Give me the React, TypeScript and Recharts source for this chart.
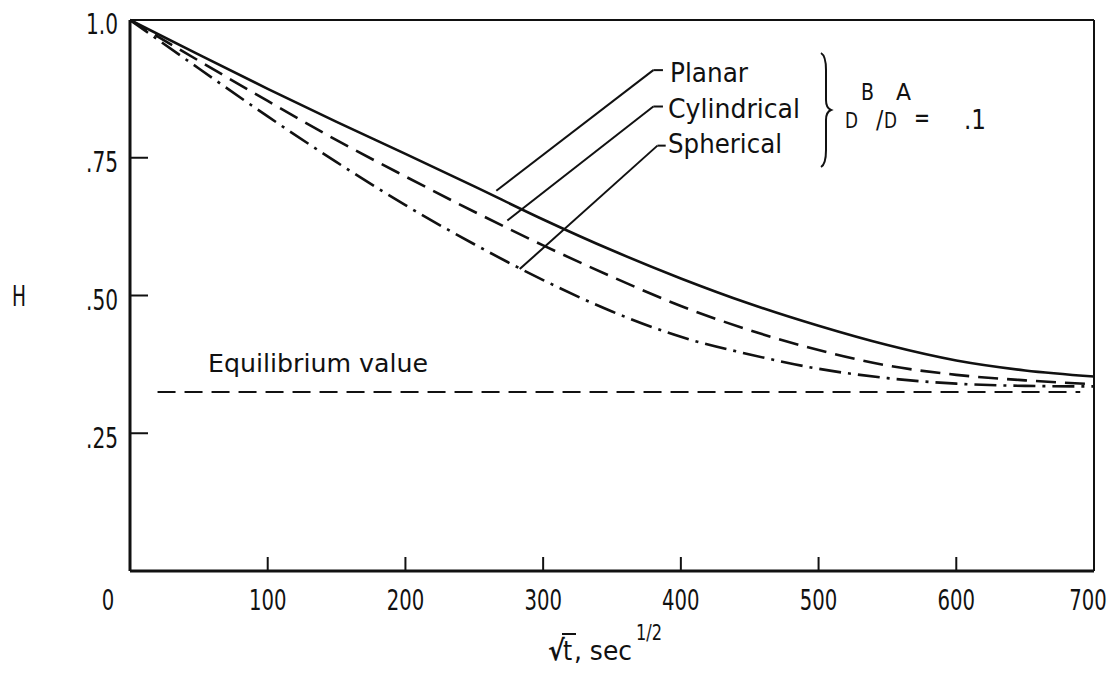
import React from "react";
import { LineChart, Line, XAxis, YAxis, ReferenceLine } from "recharts";

// sqrt(t) in sec^1/2
const X_VALUES = [0, 50, 100, 150, 200, 250, 300, 350, 400, 450, 500, 550, 600, 650, 700];
const PLANAR = [1.0, 0.937, 0.875, 0.815, 0.757, 0.698, 0.638, 0.582, 0.531, 0.485, 0.445, 0.41, 0.382, 0.364, 0.353];
const CYLINDRICAL = [1.0, 0.926, 0.853, 0.782, 0.716, 0.652, 0.591, 0.534, 0.481, 0.437, 0.401, 0.373, 0.356, 0.346, 0.339];
const SPHERICAL = [1.0, 0.912, 0.825, 0.742, 0.664, 0.593, 0.528, 0.471, 0.425, 0.393, 0.367, 0.35, 0.34, 0.336, 0.335];
const EQUILIBRIUM = 0.325;

const X_TICKS_BOTTOM = [0, 100, 200, 300, 400, 500, 600, 700];
const X_TICKS_TOP = [100, 200, 300, 400, 500, 600];
const Y_TICKS_LEFT = [0.25, 0.5, 0.75, 1.0];
const Y_TICKS_RIGHT = [0.25, 0.5, 0.75];
const Y_LABELS: Record<string, string> = { "0.25": ".25", "0.5": ".50", "0.75": ".75", "1": "1.0" };

// leader lines from labels to curves, in data units
const LEADERS = [
  [{ x: 266, y: 0.69 }, { x: 380, y: 0.909 }, { x: 387, y: 0.909 }],
  [{ x: 274, y: 0.636 }, { x: 380, y: 0.843 }, { x: 387, y: 0.843 }],
  [{ x: 283, y: 0.548 }, { x: 383, y: 0.772 }, { x: 389, y: 0.772 }],
];

const data = X_VALUES.map((x, i) => ({
  x,
  planar: PLANAR[i],
  cylindrical: CYLINDRICAL[i],
  spherical: SPHERICAL[i],
}));

const FONT = '"Liberation Sans Narrow", "DejaVu Sans Condensed", "Roboto Condensed", "Liberation Sans", sans-serif';
const INK = "#111";
const FIT = "spacingAndGlyphs";

const BottomTick = (props: any) => {
  const { x, y, payload } = props;
  // the end labels sit a little inside the frame
  const dx = payload.value === 0 ? -22 : payload.value === 700 ? -6 : 0;
  const s = String(payload.value);
  return (
    <text x={x + dx} y={y} dy="0.71em" textAnchor="middle" fontFamily={FONT} fontSize={29} fill={INK}
      textLength={s.length * 12.5} lengthAdjust={FIT}>
      {s}
    </text>
  );
};

const LeftTick = (props: any) => {
  const { x, y, payload } = props;
  return (
    <text x={x} y={y + 4} dy="0.36em" textAnchor="end" fontFamily={FONT} fontSize={29} fill={INK}
      textLength={32} lengthAdjust={FIT}>
      {Y_LABELS[String(payload.value)]}
    </text>
  );
};

export default function App() {
  const label = { fontFamily: FONT, fill: INK, lengthAdjust: FIT };
  return (
    <div style={{ position: "absolute", left: 0, top: 0, width: 1114, height: 693, background: "#fff" }}>
      <LineChart width={1114} height={693} data={data} margin={{ top: 0, right: 0, bottom: 0, left: 0 }}>
        <XAxis
          xAxisId="b"
          dataKey="x"
          type="number"
          domain={[0, 700]}
          ticks={X_TICKS_BOTTOM}
          orientation="bottom"
          height={122}
          tickSize={-14}
          tickMargin={32}
          tick={<BottomTick />}
          axisLine={{ stroke: INK, strokeWidth: 3 }}
          tickLine={{ stroke: INK, strokeWidth: 2 }}
        />
        <XAxis
          xAxisId="t"
          dataKey="x"
          type="number"
          domain={[0, 700]}
          ticks={X_TICKS_TOP}
          orientation="top"
          height={20}
          tickSize={-15}
          tick={false}
          axisLine={{ stroke: INK, strokeWidth: 2 }}
          tickLine={{ stroke: INK, strokeWidth: 2 }}
        />
        <YAxis
          yAxisId="l"
          type="number"
          domain={[0, 1]}
          ticks={Y_TICKS_LEFT}
          orientation="left"
          width={130}
          tickSize={-18}
          tickMargin={30}
          tick={<LeftTick />}
          axisLine={{ stroke: INK, strokeWidth: 3 }}
          tickLine={{ stroke: INK, strokeWidth: 2 }}
        />
        <YAxis
          yAxisId="r"
          type="number"
          domain={[0, 1]}
          ticks={Y_TICKS_RIGHT}
          orientation="right"
          width={20}
          tickSize={-18}
          tick={false}
          axisLine={{ stroke: INK, strokeWidth: 2 }}
          tickLine={{ stroke: INK, strokeWidth: 2 }}
        />
        <ReferenceLine
          xAxisId="b"
          yAxisId="l"
          segment={[{ x: 20, y: EQUILIBRIUM }, { x: 690, y: EQUILIBRIUM }]}
          stroke={INK}
          strokeWidth={2}
          strokeDasharray="18 9"
        />
        {LEADERS.map((pts, i) => (
          <React.Fragment key={i}>
            <ReferenceLine xAxisId="b" yAxisId="l" segment={[pts[0], pts[1]]} stroke={INK} strokeWidth={2} />
            <ReferenceLine xAxisId="b" yAxisId="l" segment={[pts[1], pts[2]]} stroke={INK} strokeWidth={2} />
          </React.Fragment>
        ))}
        <Line xAxisId="b" yAxisId="l" type="monotone" dataKey="planar" stroke={INK} strokeWidth={2.6} dot={false} isAnimationActive={false} />
        <Line xAxisId="b" yAxisId="l" type="monotone" dataKey="cylindrical" stroke={INK} strokeWidth={2.6} strokeDasharray="20 9" dot={false} isAnimationActive={false} />
        <Line xAxisId="b" yAxisId="l" type="monotone" dataKey="spherical" stroke={INK} strokeWidth={2.6} strokeDasharray="22 7 3 7" dot={false} isAnimationActive={false} />
      </LineChart>

      <svg width={1114} height={693} style={{ position: "absolute", left: 0, top: 0, pointerEvents: "none" }}>
        <text x={12} y={306} fontFamily={FONT} fontSize={29} fill={INK} textLength={14} lengthAdjust={FIT}>H</text>

        <text x={670} y={82} fontSize={26} {...label} textLength={78}>Planar</text>
        <text x={668} y={118} fontSize={26} {...label} textLength={132}>Cylindrical</text>
        <text x={668} y={153} fontSize={26} {...label} textLength={114}>Spherical</text>

        <path d="M 821 53 Q 826 56 826 70 L 826 100 Q 826 108 831 110 Q 826 112 826 120 L 826 150 Q 826 164 821 167" fill="none" stroke={INK} strokeWidth={2} />
        <text x={845} y={128} fontFamily={FONT} fontSize={22} fill={INK} textLength={13} lengthAdjust={FIT}>D</text>
        <text x={861} y={100} fontFamily={FONT} fontSize={23} fill={INK} textLength={13} lengthAdjust={FIT}>B</text>
        <text x={876} y={128} fontFamily={FONT} fontSize={24} fill={INK}>/</text>
        <text x={884} y={128} fontFamily={FONT} fontSize={22} fill={INK} textLength={13} lengthAdjust={FIT}>D</text>
        <text x={896} y={100} fontFamily={FONT} fontSize={23} fill={INK} textLength={15} lengthAdjust={FIT}>A</text>
        <text x={914} y={127} fontFamily={FONT} fontSize={26} fill={INK} textLength={16} lengthAdjust={FIT}>=</text>
        <text x={964} y={129} fontFamily={FONT} fontSize={26} fill={INK} textLength={22} lengthAdjust={FIT}>.1</text>

        <text x={208} y={372} fontSize={24} {...label} textLength={220}>Equilibrium value</text>

        <text x={548} y={660} fontFamily={FONT} fontSize={28} fill={INK} fontWeight="bold">√</text>
        <line x1={562} y1={634} x2={576} y2={634} stroke={INK} strokeWidth={2} />
        <text x={563} y={660} fontFamily={FONT} fontSize={26} fill={INK}>t</text>
        <text x={574} y={660} fontFamily={FONT} fontSize={26} fill={INK} textLength={58} lengthAdjust={FIT}>, sec</text>
        <text x={636} y={640} fontFamily={FONT} fontSize={22} fill={INK} textLength={26} lengthAdjust={FIT}>1/2</text>
      </svg>
    </div>
  );
}
